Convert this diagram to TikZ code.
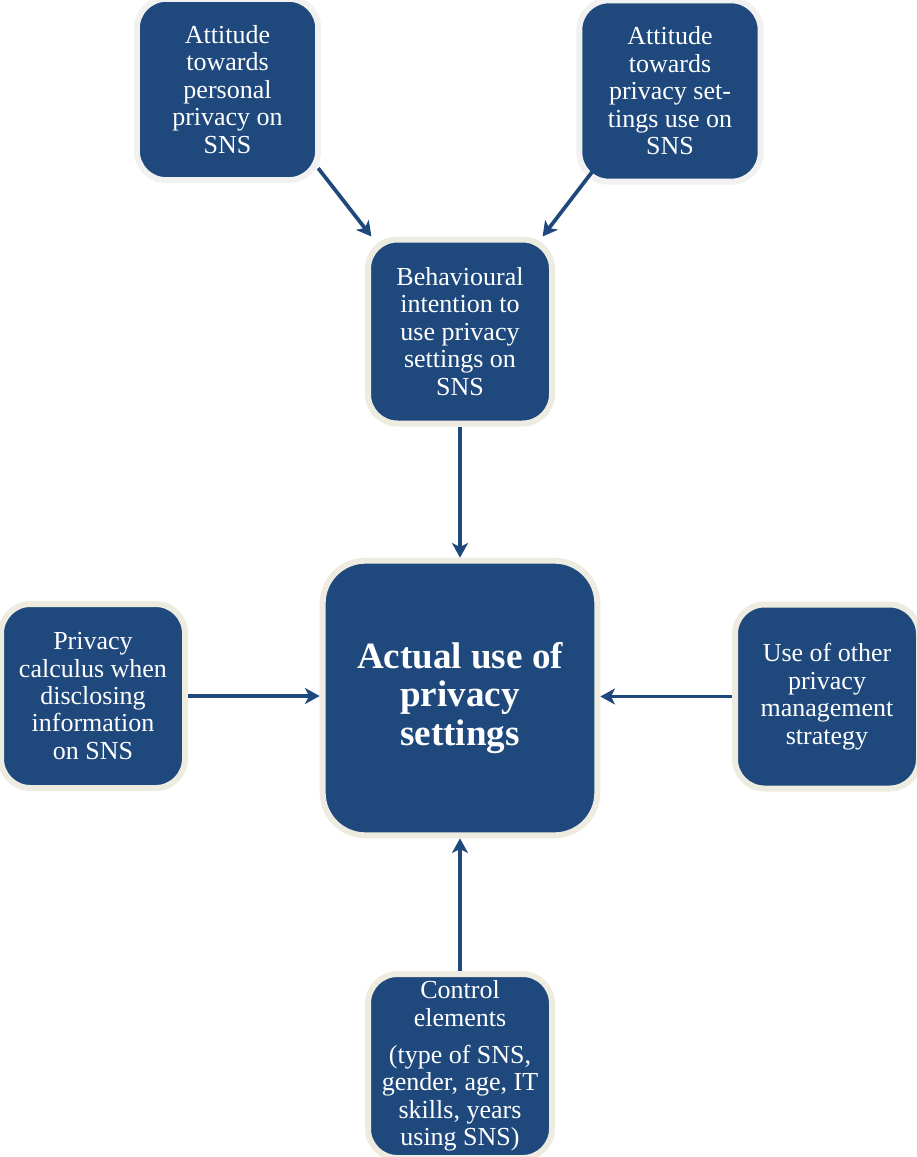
\documentclass[tikz,border=0pt]{standalone}
\usepackage{fontspec}
\setmainfont{Liberation Serif}
\usepackage{tikz}
\usetikzlibrary{arrows.meta,calc}
\definecolor{boxblue}{RGB}{31,73,125}
\definecolor{rimbeige}{RGB}{238,236,225}
\definecolor{rimgrey}{RGB}{241,241,241}
\tikzset{every picture/.style={line width=0.75pt}}
\tikzset{
  box/.style={draw=rimbeige, fill=boxblue, line width=4.5pt, rounded corners=22pt,
    minimum width=138pt, minimum height=138pt, inner sep=0pt, text=white,
    align=center, font=\fontsize{19.5}{20.6}\selectfont},
  greybox/.style={box, draw=rimgrey, minimum width=136pt, minimum height=136pt},
  bigbox/.style={box, minimum width=206pt, minimum height=206pt, rounded corners=32pt,
    font=\bfseries\fontsize{27.8}{28.9}\selectfont},
  link/.style={draw=boxblue, line width=2.8pt, -{Stealth[length=11pt,width=12pt,inset=3pt]}}
}

\begin{document}
\begin{tikzpicture}[x=0.75pt,y=0.75pt,yscale=-1,xscale=1]
\useasboundingbox (0,0) rectangle (917,1157);

%Shape: Rounded Rect [top left]
\node[greybox] (attpers) at (227.5,89.5) {Attitude\\towards\\personal\\privacy on\\SNS};
%Shape: Rounded Rect [top right]
\node[greybox] (attset) at (670,91) {Attitude\\towards\\privacy set-\\tings use on\\SNS};
%Shape: Rounded Rect [intention]
\node[box] (intent) at (460,331.5) {Behavioural\\intention to\\use privacy\\settings on\\SNS};
%Shape: Rounded Rect [centre]
\node[bigbox] (actual) at (460,698) {Actual use of\\privacy\\settings};
%Shape: Rounded Rect [left]
\node[box] (calculus) at (93,696) {Privacy\\calculus when\\disclosing\\information\\on SNS};
%Shape: Rounded Rect [right]
\node[box] (other) at (827,696.5) {Use of other\\privacy\\management\\strategy};
%Shape: Rounded Rect [bottom]
\node[box] (control) at (460,1066) {Control\\elements\\[7pt](type of SNS,\\gender, age, IT\\skills, years\\using SNS)};

%Straight Lines
\draw[link] ($(attpers.south east)+(-3,-15)$) -- (intent.133);
\draw[link] ($(attset.south west)+(16,-13)$) -- (intent.49);
\draw[link] (intent.south) -- (actual.north);
\draw[link] (calculus.east) -- (calculus.east -| actual.west);
\draw[link] (other.west) -- (other.west -| actual.east);
\draw[link] (control.north) -- (actual.south);

\end{tikzpicture}
\end{document}
